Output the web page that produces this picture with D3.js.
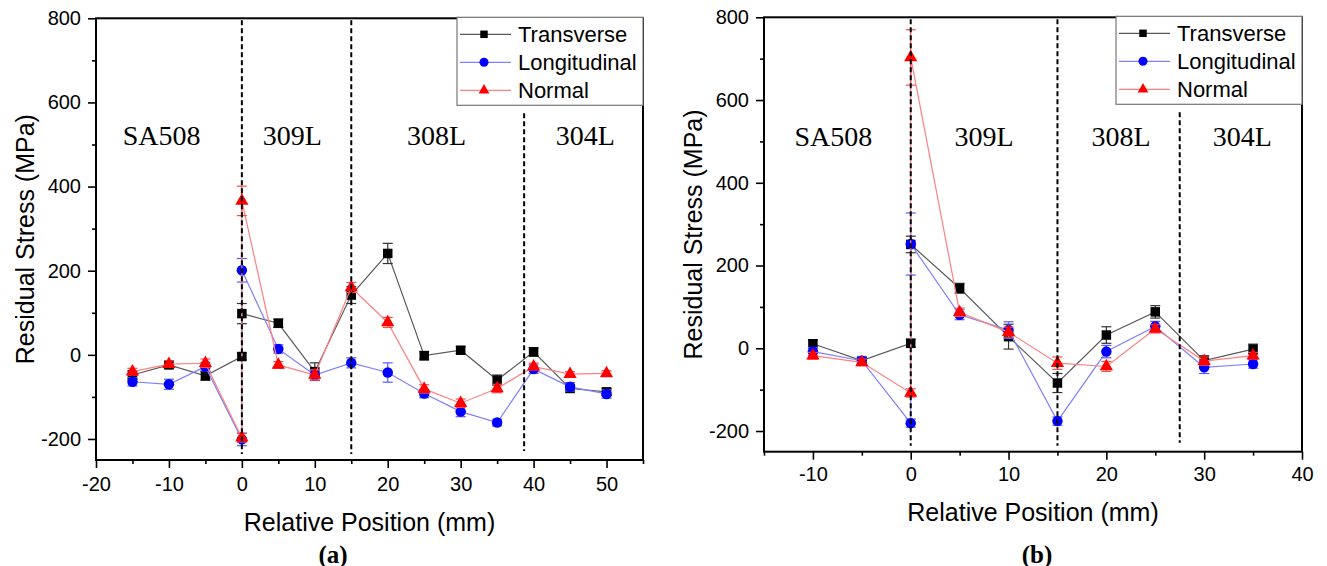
<!DOCTYPE html>
<html>
<head>
<meta charset="utf-8">
<script src="https://cdn.jsdelivr.net/npm/d3@7"></script>
<style>
  body { margin: 0; background: #fff; }
  svg { display: block; }
  text { font-family: Arial, "Liberation Sans", sans-serif; }
</style>
</head>
<body>
<svg id="chart" width="1327" height="566"></svg>
<script>
// ---- data -------------------------------------------------------------
const seriesNames = ["Transverse", "Longitudinal", "Normal"];

// Panel (a): positions across SA508 / 309L / 308L / 304L (mm)
const posA   = [-15, -10, -5, 0, 0, 5, 10, 15, 20, 25, 30, 35, 40, 45, 50];
const transA = [-48, -24, -50, -4, 98, 75, -40, 142, 241, -2, 11, -60, 7, -80, -88];
const longA  = [-64, -70, -28, -201, 201, 14, -48, -19, -42, -92, -135, -161, -34, -76, -93];
const normA  = [-40, -22, -20, -197, 366, -24, -48, 160, 77, -81, -115, -80, -28, -46, -44];
const transAErr = [10, 8, 10, 8, 24, 10, 21, 20, 24, 10, 8, 12, 10, 8, 8];
const longAErr  = [10, 12, 10, 15, 28, 10, 12, 12, 23, 10, 12, 8, 10, 10, 10];
const normAErr  = [8, 8, 10, 10, 35, 8, 12, 12, 12, 10, 10, 10, 8, 6, 6];

// Panel (b)
const posB   = [-10, -5, 0, 0, 5, 10, 15, 20, 25, 30, 35];
const transB = [11, -30, 12, 251, 145, 28, -84, 32, 88, -30, -2];
const longB  = [-8, -30, -181, 252, 81, 44, -176, -8, 53, -46, -38];
const normB  = [-18, -34, -108, 703, 87, 39, -36, -44, 47, -31, -18];
const transBErr = [10, 8, 10, 20, 12, 30, 23, 20, 15, 12, 12];
const longBErr  = [10, 10, 10, 75, 12, 20, 10, 15, 12, 15, 10];
const normBErr  = [8, 8, 10, 67, 10, 12, 15, 12, 10, 10, 8];

// Material zones: boundaries (mm) and labels
const zoneLabels = ["SA508", "309L", "308L", "304L"];
const zoneLabelXA = [-11, 6.9, 26.7, 47.1];
const zoneLabelXB = [-7.9, 7.5, 21.5, 33.9];
const boundariesA = [0, 15, 38.7];
const boundariesB = [0, 15, 27.5];

// Axis ticks
const yMajor = [-200, 0, 200, 400, 600, 800];
const yMinor = [-100, 100, 300, 500, 700];
const xMajorA = [-20, -10, 0, 10, 20, 30, 40, 50];
const xMinorA = [-15, -5, 5, 15, 25, 35, 45, 55];
const xMajorB = [-10, 0, 10, 20, 30, 40];
const xMinorB = [-15, -5, 5, 15, 25, 35];

// ---- styles -----------------------------------------------------------
const styles = [
  { marker: "#000000", line: "#5a5a5a", err: "#333333", symbol: d3.symbolSquare,   size: 90, legendSize: 56 },
  { marker: "#0000ff", line: "#8080ff", err: "#5a5aff", symbol: d3.symbolCircle,   size: 86, legendSize: 64 },
  { marker: "#ff0000", line: "#ff8080", err: "#ff4a4a", symbol: d3.symbolTriangle, size: 76, legendSize: 50 }
];

const plainNumber = d => String(d);

const svg = d3.select("#chart");
svg.append("rect").attr("width", 1327).attr("height", 566).attr("fill", "#fff");

function drawPanel(p) {
  const g = svg.append("g");
  const x = d3.scaleLinear().domain(p.xDomain).range([p.left, p.right]);
  const y = d3.scaleLinear().domain([-250, 800]).range([p.bottom, p.top]);

  // y axis (major + minor ticks)
  g.append("g").attr("transform", `translate(${p.left},0)`)
    .call(d3.axisLeft(y).tickValues(yMajor).tickSize(8).tickPadding(7).tickFormat(plainNumber));
  g.append("g").attr("transform", `translate(${p.left},0)`)
    .call(d3.axisLeft(y).tickValues(yMinor).tickSize(4).tickFormat(""));

  // x axis
  g.append("g").attr("transform", `translate(0,${p.bottom})`)
    .call(d3.axisBottom(x).tickValues(p.xMajor).tickSize(8).tickPadding(p.xPad).tickFormat(plainNumber));
  g.append("g").attr("transform", `translate(0,${p.bottom})`)
    .call(d3.axisBottom(x).tickValues(p.xMinor).tickSize(4).tickFormat(""));

  g.selectAll(".domain").remove();
  g.selectAll(".tick line").attr("stroke", "#000").attr("stroke-width", 1.6);
  g.selectAll(".tick text").attr("font-size", 20).attr("fill", "#000")
    .style("font-family", "Arial, 'Liberation Sans', sans-serif");

  // frame
  g.append("rect")
    .attr("x", p.left).attr("y", p.top)
    .attr("width", p.right - p.left).attr("height", p.bottom - p.top)
    .attr("fill", "none").attr("stroke", "#000").attr("stroke-width", 2);

  // axis titles
  g.append("text")
    .attr("transform", `translate(${p.left - 71},${(p.top + p.bottom) / 2}) rotate(-90)`)
    .attr("text-anchor", "middle").attr("dominant-baseline", "central")
    .attr("font-size", 25).text("Residual Stress (MPa)");
  g.append("text")
    .attr("x", (p.left + p.right) / 2).attr("y", p.bottom + p.titleGap)
    .attr("text-anchor", "middle").attr("dominant-baseline", "central")
    .attr("font-size", 25).text("Relative Position (mm)");
  g.append("text")
    .attr("x", p.captionX).attr("y", 554)
    .attr("text-anchor", "middle").attr("dominant-baseline", "central")
    .style("font-family", "'Liberation Serif', 'Times New Roman', serif")
    .attr("font-weight", "bold").attr("font-size", 25).text(p.caption);

  // zone labels
  g.selectAll(".zone").data(zoneLabels).join("text")
    .attr("x", (d, i) => x(p.zoneX[i])).attr("y", y(p.zoneY))
    .attr("text-anchor", "middle")
    .style("font-family", "'Liberation Serif', 'Times New Roman', serif")
    .attr("font-size", 28).attr("fill", "#000").text(d => d);

  // series
  p.series.forEach((vals, si) => {
    const st = styles[si];
    const pts = vals.map((v, i) => ({ x: p.pos[i], y: v, e: p.errs[si][i] }));
    g.append("path").datum(pts)
      .attr("fill", "none").attr("stroke", st.line).attr("stroke-width", 1.2)
      .attr("d", d3.line().x(d => x(d.x)).y(d => y(d.y)));
    const eb = g.append("g").attr("stroke", st.err).attr("stroke-width", 1.2).attr("fill", "none");
    pts.forEach(d => {
      const cx = x(d.x);
      eb.append("line").attr("x1", cx).attr("x2", cx).attr("y1", y(d.y - d.e)).attr("y2", y(d.y + d.e));
      eb.append("line").attr("x1", cx - 5).attr("x2", cx + 5).attr("y1", y(d.y - d.e)).attr("y2", y(d.y - d.e));
      eb.append("line").attr("x1", cx - 5).attr("x2", cx + 5).attr("y1", y(d.y + d.e)).attr("y2", y(d.y + d.e));
    });
    g.append("g").selectAll("path").data(pts).join("path")
      .attr("transform", d => `translate(${x(d.x)},${y(d.y)})`)
      .attr("d", d3.symbol().type(st.symbol).size(st.size))
      .attr("fill", st.marker);
  });

  // zone boundaries (dashed)
  p.boundaries.forEach((b, i) => {
    const full = i < 2;
    g.append("line")
      .attr("x1", x(b)).attr("x2", x(b))
      .attr("y1", full ? p.top + 2 : p.top + 95)
      .attr("y2", full ? p.bottom - 6 : p.bottom - 9)
      .attr("stroke", "#000").attr("stroke-width", 2).attr("stroke-dasharray", "5,3");
  });

  // legend
  const lw = 186, lh = 88;
  const lx = p.right - lw, ly = p.top - 1;
  const lg = g.append("g");
  lg.append("rect").attr("x", lx).attr("y", ly).attr("width", lw).attr("height", lh)
    .attr("fill", "#fff").attr("stroke", "#777").attr("stroke-width", 1.2);
  seriesNames.forEach((name, i) => {
    const st = styles[i];
    const ry = ly + 17 + i * 28;
    lg.append("line").attr("x1", lx + 3).attr("x2", lx + 54).attr("y1", ry).attr("y2", ry)
      .attr("stroke", st.line).attr("stroke-width", 1.2);
    lg.append("path").attr("transform", `translate(${lx + 27},${ry})`)
      .attr("d", d3.symbol().type(st.symbol).size(st.legendSize)).attr("fill", st.marker);
    lg.append("text").attr("x", lx + 61).attr("y", ry).attr("dominant-baseline", "central")
      .attr("font-size", 22).attr("fill", "#000").text(name);
  });
}

drawPanel({
  left: 96, right: 643, top: 18.3, bottom: 460,
  xDomain: [-20, 55], xMajor: xMajorA, xMinor: xMinorA, xPad: 9, titleGap: 62,
  pos: posA, series: [transA, longA, normA], errs: [transAErr, longAErr, normAErr],
  zoneX: zoneLabelXA, zoneY: 500, boundaries: boundariesA,
  caption: "(a)", captionX: 333
});
drawPanel({
  left: 764, right: 1302, top: 17.3, bottom: 451.7,
  xDomain: [-15, 40], xMajor: xMajorB, xMinor: xMinorB, xPad: 7, titleGap: 60,
  pos: posB, series: [transB, longB, normB], errs: [transBErr, longBErr, normBErr],
  zoneX: zoneLabelXB, zoneY: 488, boundaries: boundariesB,
  caption: "(b)", captionX: 1037
});
</script>
</body>
</html>
